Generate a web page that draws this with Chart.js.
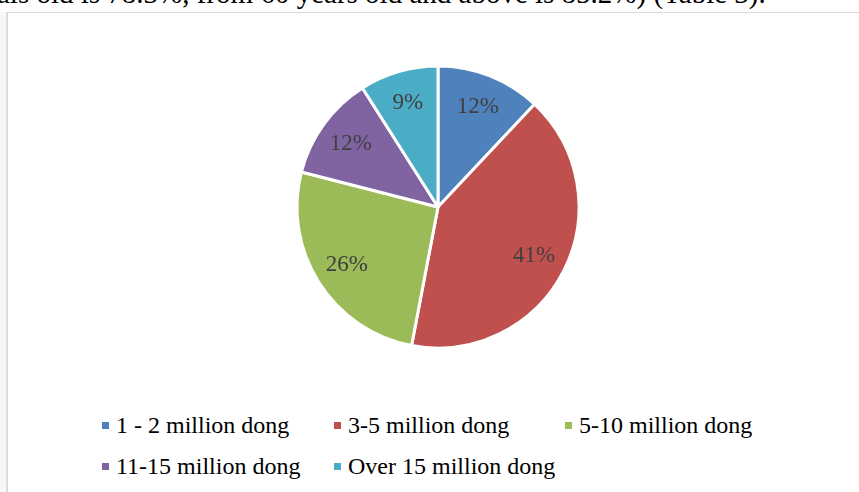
<!DOCTYPE html>
<html>
<head>
<meta charset="utf-8">
<script src="https://cdn.jsdelivr.net/npm/chart.js@4.4.1/dist/chart.umd.min.js"></script>
<style>
  html, body { margin: 0; padding: 0; background: #fff; overflow: hidden; }
  body { width: 859px; height: 492px; position: relative; font-family: "Liberation Serif", "Times New Roman", serif; }
  .text-above { position: absolute; left: -3px; top: -21px; font-size: 29px; line-height: 29px; white-space: nowrap; color: #000; }
  .strip { position: absolute; left: 0; top: 12px; width: 7px; height: 480px; background: #f6f7f9; }
  .box { position: absolute; left: 6px; top: 12px; width: 880px; height: 500px; border-top: 1px solid #dadada; border-left: 2px solid #dcdcdc; background: #fff; }
  .chart-wrap { position: absolute; left: 8px; top: 13px; width: 860px; height: 388px; }
  .legend { position: absolute; left: 102px; top: 405px; display: grid; grid-template-columns: 232px 231px 232px; font-size: 24px; line-height: 41px; color: #000; }
  .legend span.item { display: flex; align-items: center; white-space: nowrap; }
  .legend i { display: inline-block; width: 7px; height: 7px; margin-right: 7px; }
</style>
</head>
<body>
<div class="text-above">als old is 78.3%, from 60 years old and above is 85.2%) (Table 3).</div>
<div class="strip"></div>
<div class="box"></div>
<div class="chart-wrap"><canvas id="pie"></canvas></div>
<div class="legend" id="legend"></div>

<script>
const labels = ["1 - 2 million dong", "3-5 million dong", "5-10 million dong", "11-15 million dong", "Over 15 million dong"]
const shares = [12, 41, 26, 12, 9]
const colors = ["#4F81BD", "#C0504D", "#9BBB59", "#8064A2", "#4BACC6"]

// percentage labels inside each slice, a bit past the middle of the radius
const sliceLabels = {
  id: "sliceLabels",
  afterDatasetsDraw(chart) {
    const ctx = chart.ctx
    const meta = chart.getDatasetMeta(0)
    ctx.save()
    ctx.font = "23px 'Liberation Serif', 'Times New Roman', serif"
    ctx.fillStyle = "#404040"
    ctx.textAlign = "center"
    ctx.textBaseline = "middle"
    meta.data.forEach((arc, i) => {
      const p = arc.getProps(["x", "y", "startAngle", "endAngle", "outerRadius"], true)
      const mid = (p.startAngle + p.endAngle) / 2
      const r = p.outerRadius * 0.765
      ctx.fillText(shares[i] + "%", p.x + Math.cos(mid) * r, p.y + Math.sin(mid) * r)
    })
    ctx.restore()
  }
}

new Chart(document.getElementById("pie"), {
  type: "pie",
  data: {
    labels,
    datasets: [{
      data: shares,
      backgroundColor: colors,
      borderColor: "#ffffff",
      borderWidth: 3,
      hoverOffset: 0,
      radius: 141
    }]
  },
  options: {
    responsive: true,
    maintainAspectRatio: false,
    animation: false,
    layout: { padding: 0 },
    plugins: {
      legend: { display: false },
      tooltip: { enabled: false }
    }
  },
  plugins: [sliceLabels]
})

// legend laid out on a grid like the original
const legendEl = document.getElementById("legend")
labels.forEach((name, i) => {
  const item = document.createElement("span")
  item.className = "item"
  const box = document.createElement("i")
  box.style.background = colors[i]
  item.appendChild(box)
  item.appendChild(document.createTextNode(name))
  legendEl.appendChild(item)
})
</script>
</body>
</html>
